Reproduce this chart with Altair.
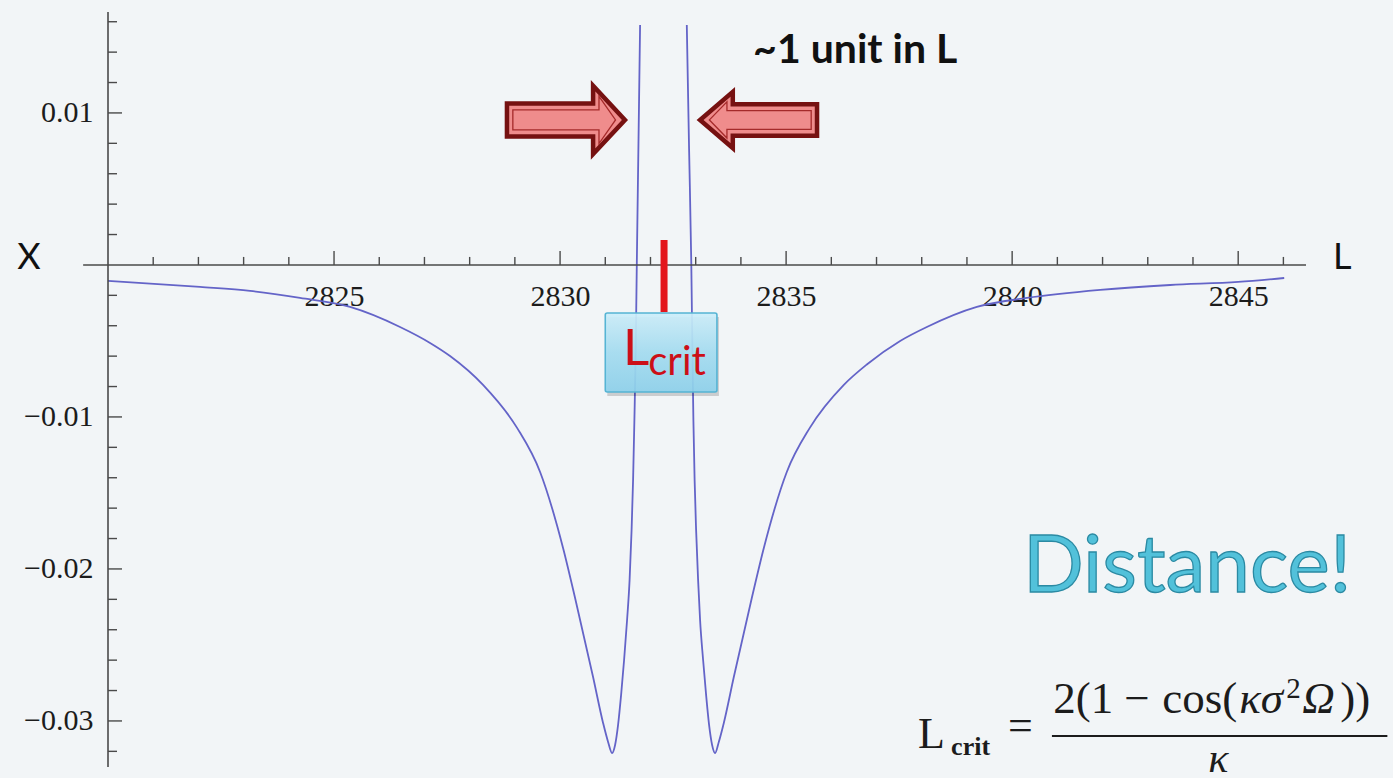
import altair as alt
import pandas as pd

# X(L) on the branch left of the critical length: outer flank, the left dip,
# then straight up the inner asymptote
left_L = [2820.000, 2822.035, 2823.142, 2824.248, 2825.354, 2826.460, 2827.124, 2827.566,
          2828.296, 2829.049, 2829.558, 2830.066, 2830.332, 2830.730, 2830.951, 2831.062,
          2831.150, 2831.217, 2831.283, 2831.350, 2831.416, 2831.482, 2831.538, 2831.582,
          2831.615, 2831.644, 2831.673, 2831.697, 2831.732, 2831.770]
left_X = [-0.00105, -0.00145, -0.00171, -0.00217, -0.00276, -0.00408, -0.00513, -0.00599,
          -0.00789, -0.01072, -0.01362, -0.01862, -0.02191, -0.02711, -0.03013, -0.03138,
          -0.03211, -0.03158, -0.03026, -0.02829, -0.02599, -0.02336, -0.02072, -0.01743,
          -0.01414, -0.01020, -0.00559, 0.0, 0.00757, 0.01579]

# X(L) on the branch right of the critical length
right_L = [2832.803, 2832.854, 2832.903, 2832.927, 2832.949, 2832.976, 2833.009, 2833.053,
           2833.097, 2833.164, 2833.230, 2833.296, 2833.363, 2833.429, 2833.511, 2833.622,
           2833.843, 2834.241, 2834.507, 2835.015, 2835.524, 2836.277, 2836.785, 2837.522,
           2838.113, 2839.219, 2840.325, 2841.947, 2843.496, 2845.000, 2846.018]
right_X = [0.01579, 0.00757, 0.0, -0.00559, -0.01020, -0.01414, -0.01743, -0.02072,
           -0.02336, -0.02599, -0.02829, -0.03026, -0.03158, -0.03211, -0.03138, -0.03013,
           -0.02711, -0.02191, -0.01862, -0.01362, -0.01072, -0.00789, -0.00655, -0.00500,
           -0.00408, -0.00276, -0.00217, -0.00164, -0.00132, -0.00112, -0.00086]

# Axis ticks
x_major = [2825, 2830, 2835, 2840, 2845]
x_minor = [2821, 2822, 2823, 2824, 2826, 2827, 2828, 2829, 2831, 2832, 2833, 2834,
           2836, 2837, 2838, 2839, 2841, 2842, 2843, 2844, 2846]
y_major = [0.01, -0.01, -0.02, -0.03]
y_minor = [0.016, 0.014, 0.012, 0.008, 0.006, 0.004, 0.002, -0.002, -0.004, -0.006,
           -0.008, -0.012, -0.014, -0.016, -0.018, -0.022, -0.024, -0.026, -0.028, -0.032]

L_CRIT = 2832.30

XDOM = [2820, 2846.5]
YDOM = [-0.03303, 0.01664]
W, H = 1198, 755

SERIF = "Liberation Serif"
SANS = "Lato"
INK = "#1c1c1c"

xs = alt.Scale(domain=XDOM, nice=False, zero=False)
ys = alt.Scale(domain=YDOM, nice=False, zero=False)

# Tick labels only: the axis lines and tick marks are drawn as rules below
X_AXIS = alt.Axis(
    values=x_major, orient="bottom", offset=-502, domain=False, ticks=False,
    tickSize=0, grid=False, title=None, format="d", labelPadding=16,
    labelFont=SERIF, labelFontSize=30, labelColor=INK,
    labelOverlap=False, labelFlush=False)
Y_AXIS = alt.Axis(
    values=y_major, orient="left", domain=False, ticks=False, tickSize=0,
    grid=False, title=None, format=".2f", labelPadding=15,
    labelFont=SERIF, labelFontSize=30, labelColor=INK,
    labelOverlap=False, labelFlush=False)

curve = pd.DataFrame({
    "L": left_L + right_L,
    "X": left_X + right_X,
    "branch": ["left"] * len(left_L) + ["right"] * len(right_L),
})


def enc(chart, two=False, **more):
    e = dict(x=alt.X("L:Q", scale=xs, axis=X_AXIS), y=alt.Y("X:Q", scale=ys, axis=Y_AXIS))
    if two:
        e.update(x2="L2:Q", y2="X2:Q")
    e.update(more)
    return chart.encode(**e)


def at(L, X, **more):
    d = {"L": [L], "X": [X]}
    d.update({k: [v] for k, v in more.items()})
    return pd.DataFrame(d)


def label(L, X, text, **style):
    return enc(alt.Chart(at(L, X)).mark_text(text=text, **style))


line = enc(alt.Chart(curve).mark_line(
    color="#6464c8", strokeWidth=1.8, interpolate="monotone"), detail="branch:N")

AXC = "#4a4a4a"
x_axis_line = enc(alt.Chart(at(2819.45, 0.0, L2=2846.5, X2=0.0)).mark_rule(
    color=AXC, strokeWidth=1.6), two=True)
y_axis_line = enc(alt.Chart(at(2820, YDOM[1], L2=2820, X2=YDOM[0])).mark_rule(
    color=AXC, strokeWidth=1.6), two=True)

xt_major = enc(alt.Chart(pd.DataFrame({"L": x_major, "X": 0.0, "L2": x_major, "X2": 0.0}))
               .mark_rule(color=AXC, strokeWidth=1.4, y2Offset=-14), two=True)
xt_minor = enc(alt.Chart(pd.DataFrame({"L": x_minor, "X": 0.0, "L2": x_minor, "X2": 0.0}))
               .mark_rule(color=AXC, strokeWidth=1.4, y2Offset=-8), two=True)
yt_major = enc(alt.Chart(pd.DataFrame({"L": 2820, "X": y_major, "L2": 2820, "X2": y_major}))
               .mark_rule(color=AXC, strokeWidth=1.4, x2Offset=14), two=True)
yt_minor = enc(alt.Chart(pd.DataFrame({"L": 2820, "X": y_minor, "L2": 2820, "X2": y_minor}))
               .mark_rule(color=AXC, strokeWidth=1.4, x2Offset=9), two=True)

x_name = label(2817.99, -0.00026, "X", font=SANS, fontSize=36, align="left",
               baseline="alphabetic", color="#111111")
l_name = label(2847.10, -0.00026, "L", font=SANS, fontSize=36, align="left",
               baseline="alphabetic", color="#111111")

# Critical length marker and its tag
crit_bar = enc(alt.Chart(at(L_CRIT, 0.00164, L2=L_CRIT, X2=-0.0031)).mark_rule(
    color="#e3161c", strokeWidth=7), two=True)

box_df = at(2831.00, -0.00316, L2=2833.47, X2=-0.00836)
box_shadow = enc(alt.Chart(box_df).mark_rect(
    fill="#000000", opacity=0.16, xOffset=2, x2Offset=2, yOffset=4, y2Offset=4), two=True)
box = enc(alt.Chart(box_df).mark_rect(
    fill=alt.Gradient(gradient="linear", x1=0, y1=0, x2=0, y2=1, stops=[
        alt.GradientStop(color="#cdeefa", offset=0),
        alt.GradientStop(color="#a6def2", offset=0.5),
        alt.GradientStop(color="#8fd2ec", offset=1)]),
    fillOpacity=0.93, stroke="#56b4d4", strokeWidth=1.6, cornerRadius=2), two=True)
box_L = label(2831.39, -0.00658, "L", font=SANS, fontSize=51, align="left",
              baseline="alphabetic", color="#cc0f17")
box_sub = label(2831.95, -0.00724, "crit", font=SANS, fontSize=40, align="left",
                baseline="alphabetic", color="#cc0f17")

# Arrows squeezing the gap between the two asymptotes
RIGHT_ARROW = "M-1,-0.28 L0.46,-0.28 L0.46,-0.58 L1,0 L0.46,0.58 L0.46,0.28 L-1,0.28 Z"
RIGHT_INNER = "M-0.9,-0.17 L0.56,-0.17 L0.56,-0.40 L0.84,0 L0.56,0.40 L0.56,0.17 L-0.9,0.17 Z"
LEFT_ARROW = "M1,-0.27 L-0.44,-0.27 L-0.44,-0.48 L-1,0 L-0.44,0.48 L-0.44,0.27 L1,0.27 Z"
LEFT_INNER = "M0.9,-0.16 L-0.54,-0.16 L-0.54,-0.31 L-0.84,0 L-0.54,0.31 L-0.54,0.16 L0.9,0.16 Z"


def arrow(L, X, outer, inner, size):
    body = enc(alt.Chart(at(L, X)).mark_point(
        shape=outer, size=size, filled=True, fill="#ef8c8c", stroke="#761111",
        strokeWidth=4.5, opacity=1, strokeJoin="miter"))
    rim = enc(alt.Chart(at(L, X)).mark_point(
        shape=inner, size=size, filled=False, fill="transparent",
        stroke="#a52a2a", strokeWidth=1.3, opacity=1))
    return body + rim


arrow_r = arrow(2830.13, 0.00954, RIGHT_ARROW, RIGHT_INNER, 13924)
arrow_l = arrow(2834.39, 0.00954, LEFT_ARROW, LEFT_INNER, 13689)

gap_note = label(2834.27, 0.01329, "~1 unit in L", font=SANS, fontSize=41,
                 fontWeight="bold", align="left", baseline="alphabetic", color="#111111")

distance = label(2840.24, -0.02151, "Distance!", font=SANS, fontSize=80, align="left",
                 baseline="alphabetic", fill="#52c1da", stroke="#2b8aa3", strokeWidth=1.3)

# L_crit = 2(1 - cos(kappa sigma^2 Omega)) / kappa
f_L = label(2837.92, -0.03178, "L", font=SERIF, fontSize=44, align="left",
            baseline="alphabetic", color=INK)
f_crit = label(2838.65, -0.03224, "crit", font=SERIF, fontSize=26, fontWeight="bold",
               align="left", baseline="alphabetic", color=INK)
f_eq = label(2839.91, -0.03125, "=", font=SERIF, fontSize=44, align="left",
             baseline="alphabetic", color=INK)
f_bar = enc(alt.Chart(at(2840.88, -0.03099, L2=2848.30, X2=-0.03099)).mark_rule(
    color=INK, strokeWidth=2), two=True)
NUM_Y = -0.02947
NUM_SIZE = 45
f_num = [
    label(2840.907, NUM_Y, "2(1", font=SERIF, fontSize=NUM_SIZE, align="left",
          baseline="alphabetic", color=INK),
    label(2842.478, NUM_Y, "−", font=SERIF, fontSize=NUM_SIZE, align="left",
          baseline="alphabetic", color=INK),
    label(2843.319, NUM_Y, "cos(", font=SERIF, fontSize=NUM_SIZE, align="left",
          baseline="alphabetic", color=INK),
    label(2845.022, NUM_Y, "κσ", font=SERIF, fontSize=NUM_SIZE, fontStyle="italic",
          align="left", baseline="alphabetic", color=INK),
    label(2846.062, -0.02849, "2", font=SERIF, fontSize=29, align="left",
          baseline="alphabetic", color=INK),
    label(2846.416, NUM_Y, "Ω", font=SERIF, fontSize=NUM_SIZE, fontStyle="italic",
          align="left", baseline="alphabetic", color=INK),
    label(2847.257, NUM_Y, "))", font=SERIF, fontSize=NUM_SIZE, align="left",
          baseline="alphabetic", color=INK),
]
f_den = label(2844.56, -0.03335, "κ", font=SERIF, fontSize=42, fontStyle="italic",
              align="center", baseline="alphabetic", color=INK)

chart = alt.layer(
    line, x_axis_line, y_axis_line, xt_major, xt_minor, yt_major, yt_minor,
    x_name, l_name, crit_bar, box_shadow, box, box_L, box_sub,
    arrow_r, arrow_l, gap_note, distance,
    f_L, f_crit, f_eq, f_bar, *f_num, f_den,
).properties(
    width=W, height=H,
    autosize=alt.AutoSizeParams(type="none"),
    padding={"left": 108, "top": 12, "right": 87, "bottom": 11},
    background="#f2f5f7",
).configure_view(stroke=None)

chart.save("out.html", embed_options={"renderer": "svg", "actions": False})
